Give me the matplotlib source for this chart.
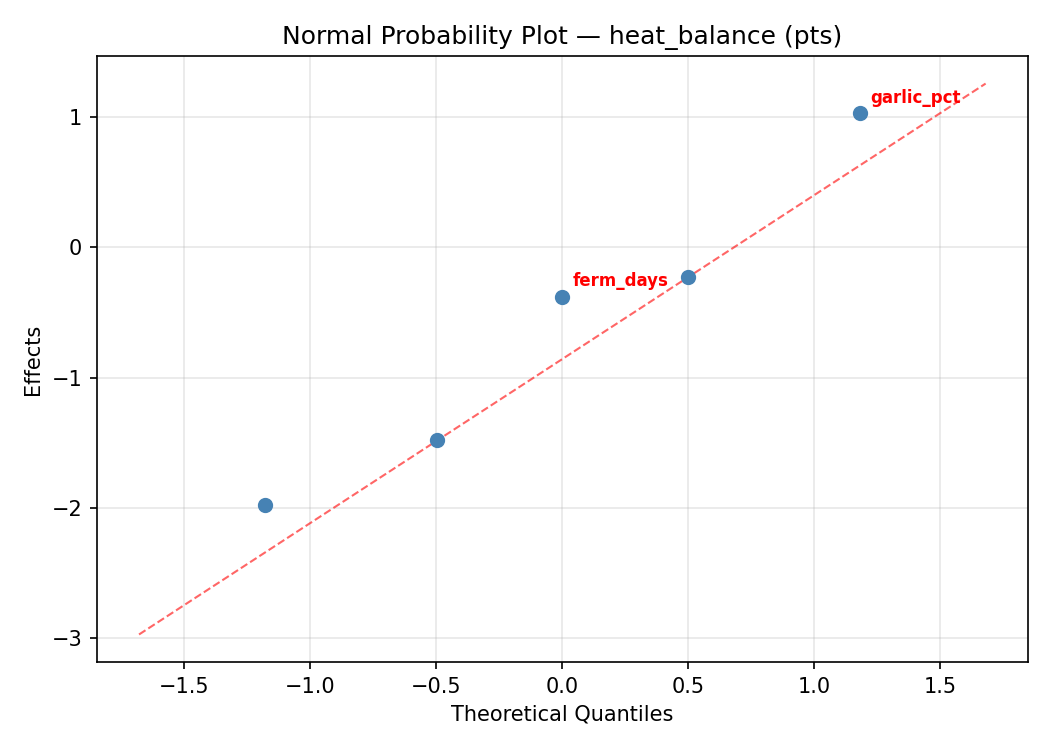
import numpy as np
import matplotlib
matplotlib.use("Agg")
import matplotlib.pyplot as plt

# Data
theoretical_quantiles = [-1.18, -0.497, 0.0, 0.497, 1.18]
effects = [-1.98, -1.48, -0.38, -0.23, 1.03]
point_labels = ["", "", "ferm_days", "", "garlic_pct"]
ref_slope = 1.258
ref_intercept = -0.858

fig, ax = plt.subplots(figsize=(7, 5), dpi=150)
fig.subplots_adjust(left=0.0921, right=0.979, bottom=0.1173, top=0.9253)

xs = np.array(theoretical_quantiles)
line_x = np.array([xs.min() - 0.5, xs.max() + 0.5])
ax.plot(line_x, ref_intercept + ref_slope * line_x, color="red", alpha=0.6,
        linestyle="--", linewidth=1)
ax.scatter(theoretical_quantiles, effects, color="steelblue", s=40, zorder=3)

for x, y, lab in zip(theoretical_quantiles, effects, point_labels):
    if lab:
        ax.annotate(lab, (x, y), xytext=(5, 5), textcoords="offset points",
                    fontsize=8, color="red", fontweight="bold")

ax.set_xlabel("Theoretical Quantiles")
ax.set_ylabel("Effects")
ax.set_title("Normal Probability Plot — heat_balance (pts)")
ax.grid(True, alpha=0.3)

fig.savefig("out.png", dpi=150)
